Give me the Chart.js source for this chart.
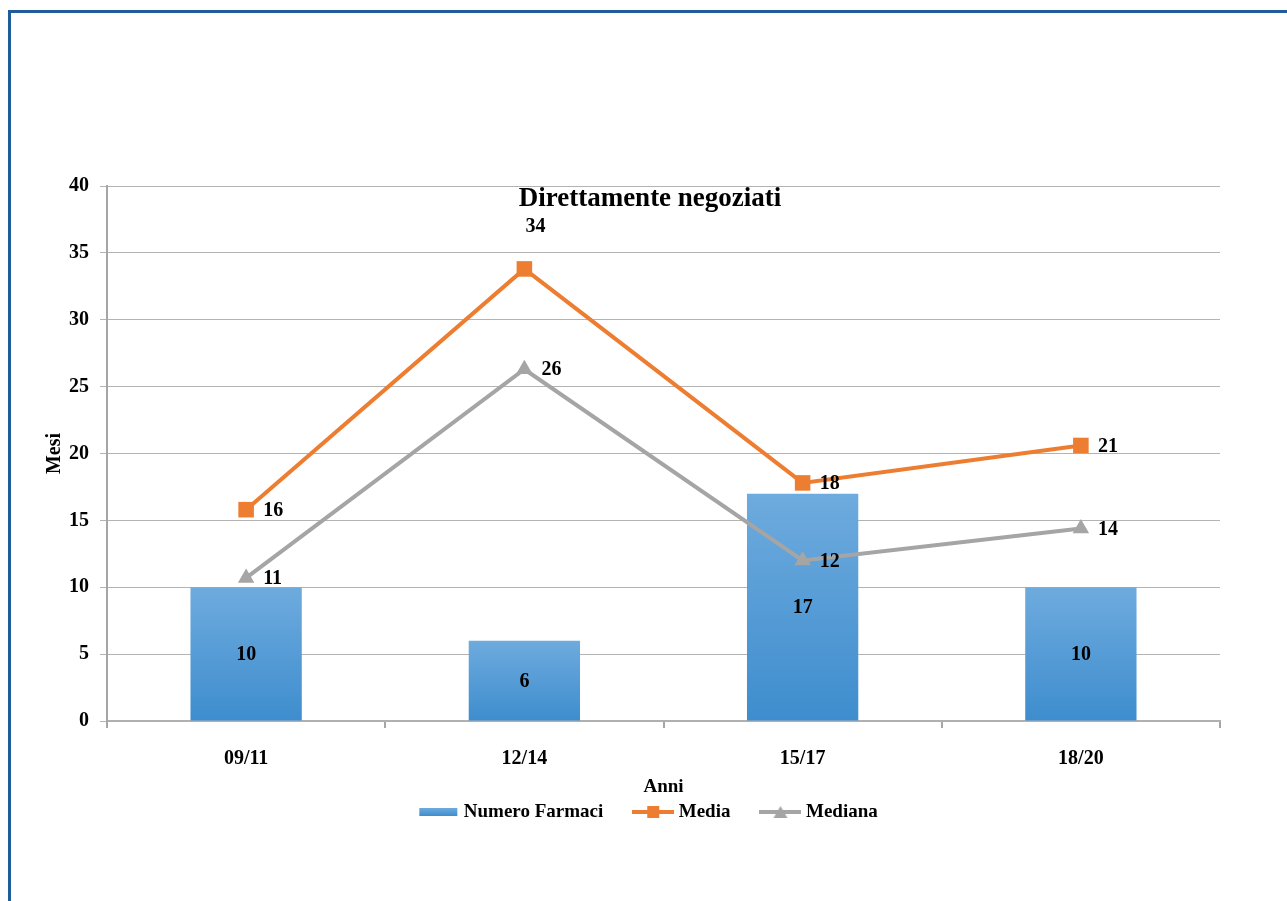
<!DOCTYPE html>
<html><head><meta charset="utf-8">
<script src="https://cdn.jsdelivr.net/npm/chart.js@4.4.1/dist/chart.umd.min.js"></script>
<style>
html,body{margin:0;padding:0;background:#fff;}
#wrap{position:relative;width:1287px;height:901px;overflow:hidden;}
#frame{position:absolute;left:8px;top:10px;width:1300px;height:920px;border-top:3px solid #1f5c9a;border-left:3px solid #1f5c9a;}
canvas{position:absolute;left:0;top:0;}
</style></head><body>
<div id="wrap"><div id="frame"></div><canvas id="c" width="1287" height="901"></canvas></div>
<script>
const categories = ['09/11', '12/14', '15/17', '18/20'];
const numeroFarmaci = [10, 6, 17, 10];
const media = [15.8, 33.8, 17.8, 20.6];
const mediana = [10.7, 26.3, 12.0, 14.4];
const seriesNames = ['Numero Farmaci', 'Media', 'Mediana'];
const chartTitle = 'Direttamente negoziati';
const xTitle = 'Anni';
const yTitle = 'Mesi';
const yMin = 0, yMax = 40, yStep = 5;

const FONT = "'Liberation Serif', 'Times New Roman', serif";
const BAR_TOP = '#6EABDE', BAR_BOT = '#3E8DCE';
const ORANGE = '#ED7D31', GREY = '#A5A5A5';

function makeIcon(kind) {
  const c = document.createElement('canvas');
  c.width = 42; c.height = 16;
  const g = c.getContext('2d');
  if (kind === 'bar') {
    const gr = g.createLinearGradient(0, 4, 0, 12);
    gr.addColorStop(0, BAR_TOP); gr.addColorStop(1, BAR_BOT);
    g.fillStyle = gr; g.fillRect(2, 4, 38, 8);
  } else {
    const col = kind === 'media' ? ORANGE : GREY;
    g.strokeStyle = col; g.lineWidth = 4;
    g.beginPath(); g.moveTo(0, 8); g.lineTo(42, 8); g.stroke();
    g.fillStyle = col;
    if (kind === 'media') { g.fillRect(15, 2, 12, 12); }
    else { g.beginPath(); g.moveTo(21, 2); g.lineTo(28, 14); g.lineTo(14, 14); g.closePath(); g.fill(); }
  }
  return c;
}
const icons = [makeIcon('bar'), makeIcon('media'), makeIcon('mediana')];

const valueLabels = {
  id: 'valueLabels',
  afterDatasetsDraw(chart) {
    const ctx = chart.ctx;
    ctx.save();
    ctx.font = 'bold 20px ' + FONT;
    ctx.fillStyle = '#000';
    ctx.textBaseline = 'middle';
    chart.data.datasets.forEach((ds, di) => {
      const meta = chart.getDatasetMeta(di);
      const maxV = Math.max(...ds.data);
      meta.data.forEach((el, i) => {
        const v = ds.data[i];
        const txt = String(Math.round(v));
        if (meta.type === 'bar') {
          ctx.textAlign = 'center';
          ctx.fillText(txt, el.x, (el.y + el.base) / 2 + 1);
        } else if (di === 1 && v === maxV) {
          ctx.textAlign = 'center';
          ctx.fillText(txt, el.x + 11, el.y - 42);
        } else {
          ctx.textAlign = 'left';
          ctx.fillText(txt, el.x + 17, el.y + 1);
        }
      });
    });
    ctx.restore();
  }
};

new Chart(document.getElementById('c'), {
  data: {
    labels: categories,
    datasets: [
      {
        type: 'bar', label: seriesNames[0], data: numeroFarmaci, order: 3,
        backgroundColor: (c) => {
          const ch = c.chart;
          if (!ch.chartArea || c.type !== 'data') return '#5B9BD5';
          const y = ch.scales.y;
          const gr = ch.ctx.createLinearGradient(0, y.getPixelForValue(c.raw), 0, y.getPixelForValue(0));
          gr.addColorStop(0, BAR_TOP); gr.addColorStop(1, BAR_BOT);
          return gr;
        },
        borderWidth: 0, barPercentage: 0.4, categoryPercentage: 1.0
      },
      {
        type: 'line', label: seriesNames[1], data: media, order: 1,
        borderColor: ORANGE, backgroundColor: ORANGE, borderWidth: 4, tension: 0,
        pointStyle: 'rect', pointRadius: 11, pointBorderWidth: 0, pointBackgroundColor: ORANGE
      },
      {
        type: 'line', label: seriesNames[2], data: mediana, order: 2,
        borderColor: GREY, backgroundColor: GREY, borderWidth: 4, tension: 0,
        pointStyle: 'triangle', pointRadius: 9.5, pointBorderWidth: 0, pointBackgroundColor: GREY
      }
    ]
  },
  options: {
    responsive: false,
    animation: false,
    devicePixelRatio: 1,
    layout: { padding: { left: 13, right: 0, top: 0, bottom: 69.5 } },
    scales: {
      x: {
        offset: true,
        grid: { display: true, drawOnChartArea: false, drawTicks: true, tickLength: 7, color: '#a6a6a6', lineWidth: 2, offset: true },
        border: { color: '#b0b0b0', width: 2 },
        ticks: { font: { family: FONT, size: 20, weight: 'bold' }, color: '#000', padding: 19, maxRotation: 0 },
        title: { display: true, text: xTitle, font: { family: FONT, size: 19, weight: 'bold' }, color: '#000', padding: { top: 0, bottom: -29.9 } },
        afterFit(s) { s.height = 47.5; }
      },
      y: {
        position: 'left', min: yMin, max: yMax,
        ticks: { stepSize: yStep, font: { family: FONT, size: 20, weight: 'bold' }, color: '#000', padding: 11 },
        grid: { color: '#b3b3b3', lineWidth: 1, tickLength: 7 },
        border: { color: '#a6a6a6', width: 2 },
        title: { display: true, text: yTitle, font: { family: FONT, size: 20, weight: 'bold' }, color: '#000', padding: { top: 30, bottom: 0 } },
        afterFit(s) { s.width = 94; }
      },
      yR: {
        type: 'linear', position: 'right', display: true,
        grid: { display: false }, ticks: { display: false }, border: { display: false },
        afterFit(s) { s.width = 67; }
      }
    },
    plugins: {
      title: {
        display: true, text: chartTitle, color: '#000',
        font: { family: FONT, size: 27, weight: 'bold' },
        padding: { top: 182.8, bottom: -29.2 }
      },
      legend: {
        display: true, position: 'bottom',
        labels: {
          usePointStyle: true, pointStyleWidth: 32, boxHeight: 14, padding: 34,
          color: '#000', font: { family: FONT, size: 19, weight: 'bold' },
          generateLabels: (chart) => chart.data.datasets.map((ds, i) => ({
            text: ds.label, fillStyle: 'transparent', strokeStyle: 'transparent', lineWidth: 0,
            pointStyle: icons[i], datasetIndex: i, hidden: false, fontColor: '#000'
          }))
        }
      },
      tooltip: { enabled: false }
    }
  },
  plugins: [valueLabels]
});
</script>
</body></html>
